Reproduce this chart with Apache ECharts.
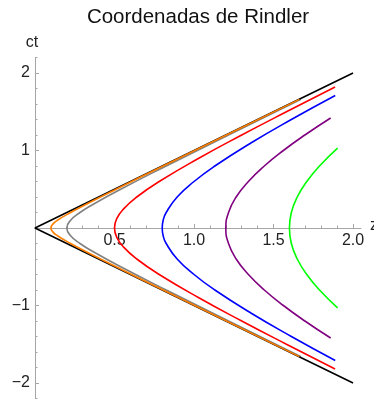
<!DOCTYPE html>
<html>
<head>
<meta charset="utf-8">
<script src="https://cdn.jsdelivr.net/npm/echarts@6/dist/echarts.min.js"></script>
<style>html,body{margin:0;padding:0;background:#fff}#c{width:374px;height:399px}</style>
</head>
<body>
<div id="c"></div>
<script>
// Data: ct values and matching z values for each curve
var lightConeZ  = [2.0, 0.0, 2.0];
var lightConeCt = [-2.0, 0.0, 2.0];

var orangeCt = [-1.66, -1.2, -0.8, -0.5, -0.3, -0.2, -0.1, -0.05, 0, 0.05, 0.1, 0.2, 0.3, 0.5, 0.8, 1.2, 1.66];
var orangeZ  = [1.663, 1.204, 0.806, 0.510, 0.316, 0.224, 0.141, 0.112, 0.100, 0.112, 0.141, 0.224, 0.316, 0.510, 0.806, 1.204, 1.663];

var grayCt = [-1.66, -1.2, -0.8, -0.5, -0.3, -0.2, -0.1, 0, 0.1, 0.2, 0.3, 0.5, 0.8, 1.2, 1.66];
var grayZ  = [1.672, 1.217, 0.825, 0.539, 0.361, 0.283, 0.224, 0.200, 0.224, 0.283, 0.361, 0.539, 0.825, 1.217, 1.672];

var redCt = [-1.82, -1.5, -1.2, -0.9, -0.6, -0.4, -0.25, -0.12, 0, 0.12, 0.25, 0.4, 0.6, 0.9, 1.2, 1.5, 1.82];
var redZ  = [1.887, 1.581, 1.300, 1.030, 0.781, 0.640, 0.559, 0.514, 0.500, 0.514, 0.559, 0.640, 0.781, 1.030, 1.300, 1.581, 1.887];

var blueCt = [-1.71, -1.4, -1.1, -0.8, -0.6, -0.4, -0.2, -0.1, 0, 0.1, 0.2, 0.4, 0.6, 0.8, 1.1, 1.4, 1.71];
var blueZ  = [1.888, 1.612, 1.360, 1.131, 1.000, 0.894, 0.825, 0.806, 0.800, 0.806, 0.825, 0.894, 1.000, 1.131, 1.360, 1.612, 1.888];

var purpleCt = [-1.42, -1.2, -1.0, -0.8, -0.6, -0.4, -0.2, 0, 0.2, 0.4, 0.6, 0.8, 1.0, 1.2, 1.42];
var purpleZ  = [1.859, 1.697, 1.562, 1.442, 1.342, 1.265, 1.217, 1.200, 1.217, 1.265, 1.342, 1.442, 1.562, 1.697, 1.859];

var greenCt = [-1.03, -0.8, -0.6, -0.4, -0.2, 0, 0.2, 0.4, 0.6, 0.8, 1.03];
var greenZ  = [1.903, 1.789, 1.709, 1.649, 1.612, 1.600, 1.612, 1.649, 1.709, 1.789, 1.903];

var xMajorTicks = [0.5, 1.0, 1.5, 2.0];
var xMinorTicks = [0.1, 0.2, 0.3, 0.4, 0.6, 0.7, 0.8, 0.9, 1.1, 1.2, 1.3, 1.4, 1.6, 1.7, 1.8, 1.9, 2.0];
var yMajorTicks = [-2, -1, 1, 2];
var yMinorTicks = [-2.2, -1.8, -1.6, -1.4, -1.2, -0.8, -0.6, -0.4, -0.2, 0.2, 0.4, 0.6, 0.8, 1.2, 1.4, 1.6, 1.8, 2.2];

function pair(zs, cts) { return zs.map(function (z, i) { return [z, cts[i]]; }); }

var axisColor = '#a6a6a6';
var fontFam = 'Liberation Sans, Arial, sans-serif';
var labelFont = { fontFamily: fontFam, fontSize: 16, color: '#222' };

var gridTop = 57.5, gridBottom = 0.5, chartH = 399;
var zeroOffset = -(chartH - gridTop - gridBottom) / 2; // ct = 0 sits mid-height of the grid

function curve(name, zs, cts, color) {
  return {
    name: name, type: 'line', data: pair(zs, cts), showSymbol: false, smooth: 0.5,
    xAxisIndex: 0, yAxisIndex: 0,
    lineStyle: { color: color, width: 1.6 }
  };
}

var chart = echarts.init(document.getElementById('c'));
chart.setOption({
  animation: false,
  title: {
    text: 'Coordenadas de Rindler', left: 193, top: 2, textAlign: 'center',
    textStyle: { fontFamily: fontFam, fontSize: 20.5, fontWeight: 'normal', color: '#111' }
  },
  grid: { left: 35, right: 13, top: gridTop, bottom: gridBottom, containLabel: false, outerBoundsMode: 'none' },
  xAxis: [{
    type: 'value', min: 0, max: 2.05, position: 'bottom', offset: zeroOffset,
    name: 'z', nameLocation: 'end', nameGap: 3,
    nameTextStyle: Object.assign({}, labelFont, { verticalAlign: 'bottom', padding: [0, 0, -6, 0] }),
    axisLine: { onZero: false, lineStyle: { color: axisColor, width: 1 } },
    axisTick: { inside: true, length: 4, customValues: xMajorTicks, lineStyle: { color: axisColor } },
    axisLabel: Object.assign({}, labelFont, { margin: 5, customValues: xMajorTicks, formatter: function (v) { return v.toFixed(1); } }),
    splitLine: { show: false }
  }, {
    type: 'value', min: 0, max: 2.05, position: 'bottom', offset: zeroOffset,
    axisLine: { show: false, onZero: false },
    axisTick: { inside: true, length: 2.5, customValues: xMinorTicks, lineStyle: { color: axisColor } },
    axisLabel: { show: false },
    splitLine: { show: false }
  }],
  yAxis: [{
    type: 'value', min: -2.2, max: 2.2, position: 'left',
    name: 'ct', nameLocation: 'end', nameGap: 7,
    nameTextStyle: Object.assign({}, labelFont, { align: 'center', padding: [0, 6, 0, 0] }),
    axisLine: { onZero: false, lineStyle: { color: axisColor, width: 1 } },
    axisTick: { inside: true, length: 4, customValues: yMajorTicks, lineStyle: { color: axisColor } },
    axisLabel: Object.assign({}, labelFont, { margin: 5, customValues: yMajorTicks, formatter: function (v) { return String(v).replace('-', '\u2212'); } }),
    splitLine: { show: false }
  }, {
    type: 'value', min: -2.2, max: 2.2, position: 'left',
    axisLine: { show: false, onZero: false },
    axisTick: { inside: true, length: 2.5, customValues: yMinorTicks, lineStyle: { color: axisColor } },
    axisLabel: { show: false },
    splitLine: { show: false }
  }],
  series: [
    curve('ρ=0.2', grayZ, grayCt, '#808080'),
    { name: 'cone', type: 'line', data: pair(lightConeZ, lightConeCt), showSymbol: false,
      xAxisIndex: 0, yAxisIndex: 0, lineStyle: { color: '#000', width: 1.6 } },
    curve('ρ=0.1', orangeZ, orangeCt, '#ff8000'),
    curve('ρ=0.5', redZ, redCt, '#ff0000'),
    curve('ρ=0.8', blueZ, blueCt, '#0000ff'),
    curve('ρ=1.2', purpleZ, purpleCt, '#800080'),
    curve('ρ=1.6', greenZ, greenCt, '#00ff00')
  ]
});
</script>
</body>
</html>
